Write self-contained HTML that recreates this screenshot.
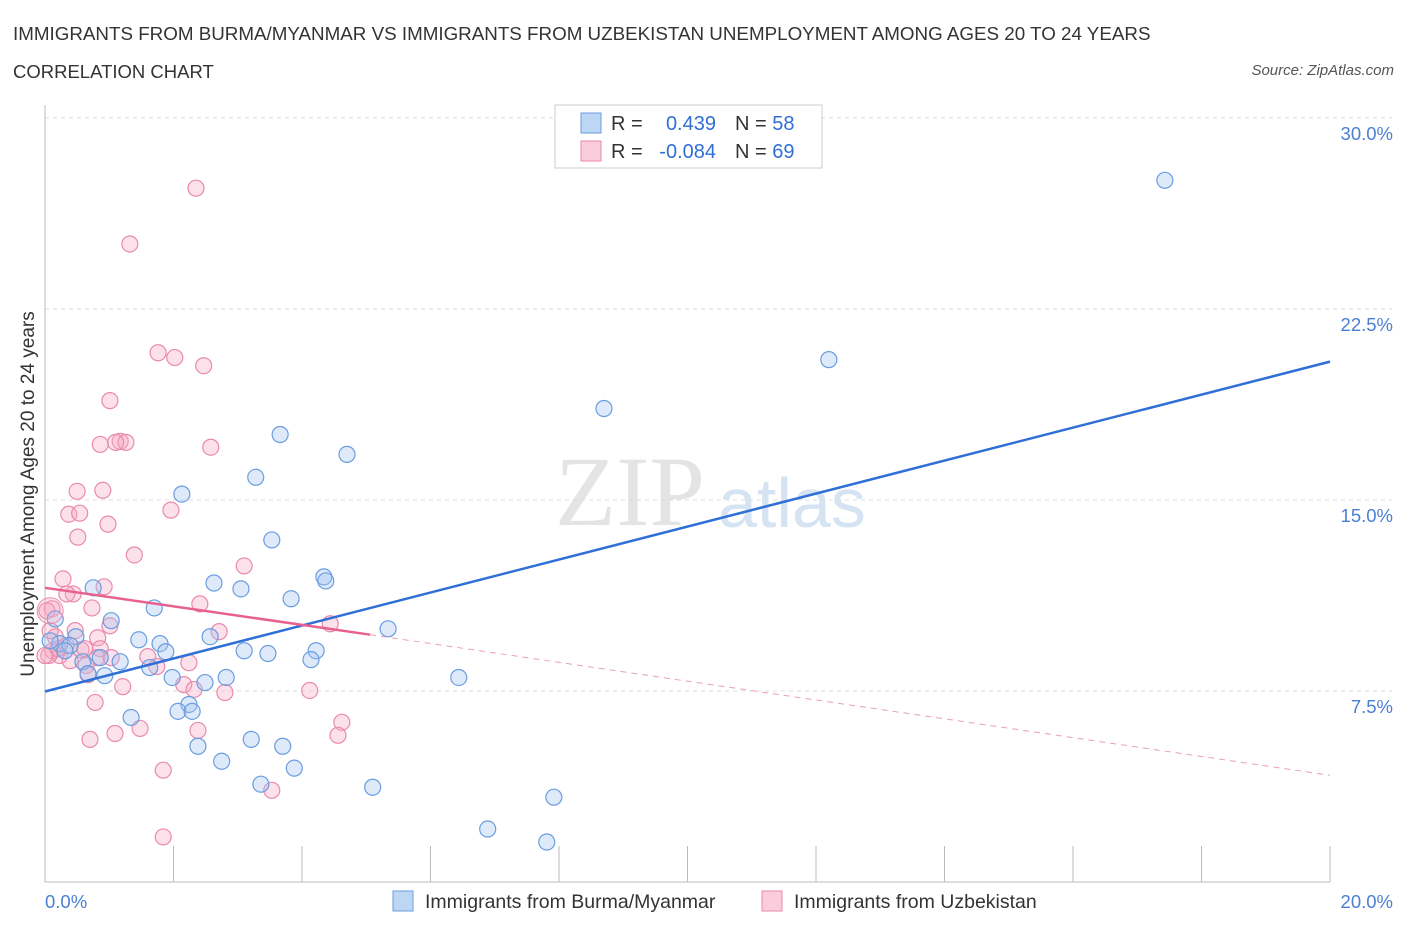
<!DOCTYPE html>
<html><head><meta charset="utf-8">
<style>
body{margin:0;background:#fff;font-family:"Liberation Sans",sans-serif;}
#wrap{position:relative;width:1406px;height:930px;overflow:hidden;}
.t{position:absolute;white-space:nowrap;}
</style></head><body>
<div id="wrap">
<div class="t" style="left:13px;top:23px;font-size:18.8px;color:#333;">IMMIGRANTS FROM BURMA/MYANMAR VS IMMIGRANTS FROM UZBEKISTAN UNEMPLOYMENT AMONG AGES 20 TO 24 YEARS</div>
<div class="t" style="left:13px;top:61px;font-size:18.5px;color:#333;">CORRELATION CHART</div>
<div class="t" style="right:12px;top:62px;font-size:15px;color:#555;font-style:italic;">Source: ZipAtlas.com</div>
<svg id="svg" width="1406" height="930" style="position:absolute;left:0;top:0"></svg>
</div>
<script>
const xTicks=[0,2,4,6,8,10,12,14,16,18,20];
const yTicks=[7.5,15,22.5,30];
const yTickLabels=["7.5%","15.0%","22.5%","30.0%"];
const blueX=[17.43,12.20,8.70,3.66,4.70,3.28,2.13,3.53,2.63,3.05,4.34,4.37,3.83,1.70,1.03,5.34,2.57,1.46,1.79,0.75,0.48,0.23,0.39,0.86,1.17,0.59,1.63,1.88,3.10,3.47,4.22,4.14,1.98,2.82,2.49,6.44,0.93,0.67,2.24,2.07,2.29,1.34,3.21,2.38,3.70,2.75,3.88,3.36,5.10,7.92,6.89,7.81,0.16,0.08,0.31];
const blueY=[27.55,20.51,18.59,17.57,16.79,15.89,15.23,13.43,11.74,11.51,11.98,11.82,11.12,10.76,10.26,9.94,9.63,9.51,9.36,11.55,9.63,9.36,9.28,8.81,8.65,8.65,8.42,9.04,9.08,8.97,9.08,8.73,8.03,8.03,7.83,8.03,8.10,8.18,6.97,6.70,6.70,6.46,5.60,5.33,5.33,4.74,4.47,3.84,3.72,3.33,2.08,1.57,10.33,9.47,9.08];
const pinkX=[2.35,1.32,1.76,2.02,2.47,1.01,0.86,1.17,1.26,1.10,2.58,0.90,0.50,0.37,0.54,0.98,0.51,1.96,1.39,3.10,0.28,0.92,0.44,0.34,2.41,0.73,4.44,0.11,1.01,0.47,2.71,0.82,0.16,0.33,0.12,0.86,0.56,0.23,0.06,0.81,1.03,1.60,2.24,1.74,0.64,0.67,1.21,2.16,2.32,2.80,4.12,0.78,4.62,1.48,2.38,4.56,0.70,1.09,1.84,3.53,1.84,0.03,0.20,0.00,0.08,0.39,0.62];
const pinkY=[27.24,25.05,20.78,20.59,20.27,18.90,17.18,17.30,17.26,17.26,17.07,15.38,15.34,14.44,14.48,14.05,13.54,14.60,12.84,12.41,11.90,11.59,11.31,11.31,10.92,10.76,10.14,10.73,10.06,9.87,9.83,9.59,9.63,9.28,9.08,9.16,9.12,8.89,8.89,8.81,8.81,8.85,8.61,8.46,8.50,8.14,7.67,7.75,7.56,7.44,7.52,7.05,6.27,6.03,5.95,5.76,5.60,5.83,4.39,3.60,1.77,10.65,9.16,8.89,9.87,8.69,9.16];
const blueTrend=[[0,7.48],[20,20.43]];
const pinkTrendSolid=[[0,11.55],[5.06,9.71]];
const pinkTrendDash=[[5.06,9.71],[20,4.19]];
const X0=45,X1=1330,Y0=882,PX=25.47;
const xs=v=>X0+v*(X1-X0)/20;
const ys=v=>Y0-v*PX;
const svg=document.getElementById('svg');
const NS='http://www.w3.org/2000/svg';
function mk(tag,at){const e=document.createElementNS(NS,tag);for(const k in at)e.setAttribute(k,at[k]);svg.appendChild(e);return e;}
let w=mk('text',{x:555,y:525,'font-size':100,'font-family':'Liberation Serif',fill:'#e4e4e4'});w.textContent='ZIP';


let w2=mk('text',{x:718,y:527,'font-size':70,'font-family':'Liberation Sans',fill:'#d6e3f3'});w2.textContent='atlas';


yTicks.forEach((t,i)=>{
 const g=mk('line',{x1:X0,x2:1392,y1:ys(t),y2:ys(t),stroke:'#dcdcdc','stroke-dasharray':'4,4'});
 
 
 const l=mk('text',{x:1393,y:ys(t)+22,'text-anchor':'end','font-size':18.5,fill:'#4a7fd4'});l.textContent=yTickLabels[i];
 
 
});
let ax=mk('line',{x1:X0,x2:X0,y1:105,y2:Y0,stroke:'#bbb'});


let bx=mk('line',{x1:X0,x2:X1,y1:Y0,y2:Y0,stroke:'#bbb'});


xTicks.forEach(t=>{const e=mk('line',{x1:xs(t),x2:xs(t),y1:Y0-36,y2:Y0,stroke:'#bbb'});
 
 });
let xl=mk('text',{x:45,y:908,'font-size':18.5,fill:'#4a7fd4'});xl.textContent='0.0%';


let xr=mk('text',{x:1393,y:908,'font-size':18.5,fill:'#4a7fd4','text-anchor':'end'});xr.textContent='20.0%';


let yt=mk('text',{x:0,y:0,'font-size':19,fill:'#333','text-anchor':'middle',transform:'translate(34,494) rotate(-90)'});yt.textContent='Unemployment Among Ages 20 to 24 years';


function pts(X,Y,fill,stroke,name){X.forEach((x,i)=>{const c=mk('circle',{cx:xs(x),cy:ys(Y[i]),r:8,fill:fill,stroke:stroke,'stroke-width':1.2});
 
 });}
pts(pinkX,pinkY,'rgba(246,170,196,0.35)','#e98aae','point-uzbekistan');
pts(blueX,blueY,'rgba(160,196,240,0.35)','#6a9de0','point-burma');
let big=mk('circle',{cx:xs(0.08),cy:ys(10.65),r:13,fill:'rgba(246,170,196,0.3)',stroke:'#e98aae'});


function ln(p,st,wd,da,name){const e=mk('line',{x1:xs(p[0][0]),y1:ys(p[0][1]),x2:xs(p[1][0]),y2:ys(p[1][1]),stroke:st,'stroke-width':wd});if(da)e.setAttribute('stroke-dasharray',da);
 
 }
ln(blueTrend,'#2f6fd6',2.5,null,'trendline-burma');
ln(pinkTrendSolid,'#e8608e',2.5,null,'trendline-uzbekistan');
ln(pinkTrendDash,'#e8a0b8',1,'6,5','trendline-uzbekistan-extension');
let lb=mk('rect',{x:555,y:105,width:267,height:63,fill:'#fff',stroke:'#ccc'});


[[123,'rgba(160,196,240,0.7)','#6a9de0','0.439','58'],[151,'rgba(246,170,196,0.6)','#e98aae','-0.084','69']].forEach((r,i)=>{
 const s=mk('rect',{x:581,y:r[0]-10,width:20,height:20,fill:r[1],stroke:r[2]});
 
 
 const t=mk('text',{x:611,y:r[0]+7,'font-size':20,fill:'#333'});t.textContent='R =';
 
 
 const v=mk('text',{x:716,y:r[0]+7,'font-size':20,fill:'#2f6fd6','text-anchor':'end'});v.textContent=r[3];
 
 
 const n=mk('text',{x:735,y:r[0]+7,'font-size':20,fill:'#333'});n.innerHTML='N = <tspan fill="#2f6fd6">'+r[4]+'</tspan>';
 
 
});
[[393,'rgba(160,196,240,0.7)','#6a9de0','Immigrants from Burma/Myanmar'],[762,'rgba(246,170,196,0.6)','#e98aae','Immigrants from Uzbekistan']].forEach(r=>{
 const s=mk('rect',{x:r[0],y:891,width:20,height:20,fill:r[1],stroke:r[2]});
 
 
 const t=mk('text',{x:r[0]+32,y:908,'font-size':19.5,fill:'#333'});t.textContent=r[3];
 
 
});
</script>
</body></html>
